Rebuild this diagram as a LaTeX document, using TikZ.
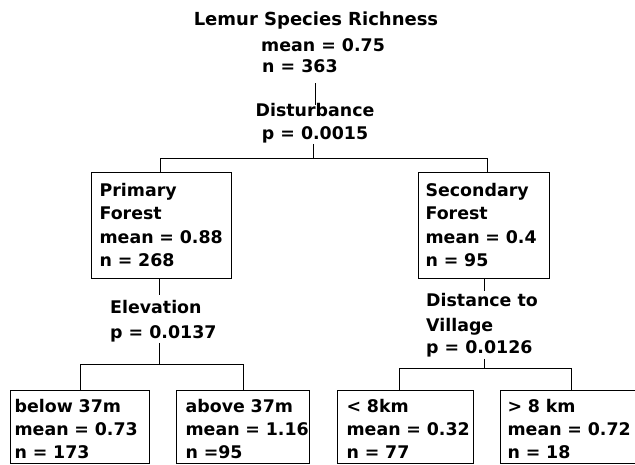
\documentclass[tikz,border=0pt]{standalone}
\usepackage{fontspec}
\setmainfont{DejaVu Sans}
\newcommand\myTopStrut[1]{\rule{0pt}{#1}}
\newcommand\myBotStrut[1]{\rule[-#1]{0pt}{#1}}
\begin{document}
\begin{tikzpicture}[x=1pt,y=-1pt,
  lbl/.style={inner sep=0pt, font=\fontsize{17.4}{23.33}\selectfont\bfseries},
  ttl/.style={inner sep=0pt, font=\fontsize{18}{22}\selectfont\bfseries},
  treebox/.style={draw, line width=1.2pt, anchor=north west, align=left,
    font=\fontsize{17.4}{23.33}\selectfont\bfseries},
  bigbox/.style={treebox, inner ysep=3pt},
  smallbox/.style={treebox, font=\fontsize{17.4}{23}\selectfont\bfseries, inner ysep=2pt},
  conn/.style={line width=1pt}]
\useasboundingbox (0,0) rectangle (635,465);
\clip (0,0) rectangle (635,465);

% free labels
\node[ttl, anchor=base] (title) at (316,26) {Lemur Species Richness};
\node[lbl, anchor=base west] (m0) at (261,52) {mean = 0.75};
\node[lbl, anchor=base west] (n0) at (262,73) {n = 363};
\node[lbl, anchor=base] (dst) at (315,117) {Disturbance};
\node[lbl, anchor=base] (dstp) at (315,140) {p = 0.0015};
\node[lbl, anchor=base west] (elv) at (110,313) {Elevation};
\node[lbl, anchor=base west] (elvp) at (110,338) {p = 0.0137};
\node[lbl, anchor=base west] (dv1) at (426,307) {Distance to};
\node[lbl, anchor=base west] (dv2) at (426,331) {Village};
\node[lbl, anchor=base west] (dvp) at (426,353) {p = 0.0126};

% boxes
\node[bigbox, inner xsep=8pt, text width=124pt] (prim) at (91,172)
  {\myTopStrut{21pt}Primary\\Forest\\mean~=~0.88\\n~=~268\myBotStrut{9pt}};
\node[bigbox, inner xsep=7pt, text width=117pt] (sec) at (418,172)
  {\myTopStrut{21pt}Secondary\\Forest\\mean~=~0.4\\n~=~95\myBotStrut{9pt}};
\node[smallbox, inner xsep=4pt, text width=131pt] (b1) at (10,390)
  {\myTopStrut{19.5pt}below~37m\\mean~=~0.73\\n~=~173\myBotStrut{3.5pt}};
\node[smallbox, inner xsep=9pt, text width=115pt] (b2) at (176,390)
  {\myTopStrut{19.5pt}above~37m\\mean~=~1.16\\n~=95\myBotStrut{3.5pt}};
\node[smallbox, inner xsep=9pt, text width=118pt] (b3) at (337,390)
  {\myTopStrut{19.5pt}<~8km\\mean~=~0.32\\n~=~77\myBotStrut{3.5pt}};
\node[smallbox, inner xsep=7pt, text width=126pt] (b4) at (500,390)
  {\myTopStrut{19.5pt}>~8~km\\mean~=~0.72\\n~=~18\myBotStrut{3.5pt}};

% connectors
\path (n0.south -| dst.north) ++(0,10) coordinate (c0);
\draw[conn] (c0) -- ([yshift=-1pt]dst.north);
\draw[conn] ([xshift=-2pt]dstp.south) -- ++(0,15) coordinate (bar0);
\draw[conn] ([xshift=-1pt]prim.north) |- (bar0) -| ([xshift=3.5pt]sec.north);

\draw[conn] ([xshift=-2pt]prim.south) -- ([xshift=-2pt,yshift=5pt]prim.south |- elv.north);
\draw[conn] ([xshift=-2pt,yshift=-1pt]elvp.south -| prim.south) -- ++(0,22) coordinate (bar1);
\draw[conn] (b1.north) |- (bar1) -| (b2.north);

\draw[conn] (sec.south) -- ([yshift=3pt]sec.south |- dv1.north);
\draw[conn] ([yshift=-2pt]dvp.south -| sec.south) -- ++(0,10) coordinate (bar2);
\draw[conn] ([xshift=-6pt]b3.north) |- (bar2) -| ([xshift=1pt]b4.north);
\end{tikzpicture}
\end{document}
